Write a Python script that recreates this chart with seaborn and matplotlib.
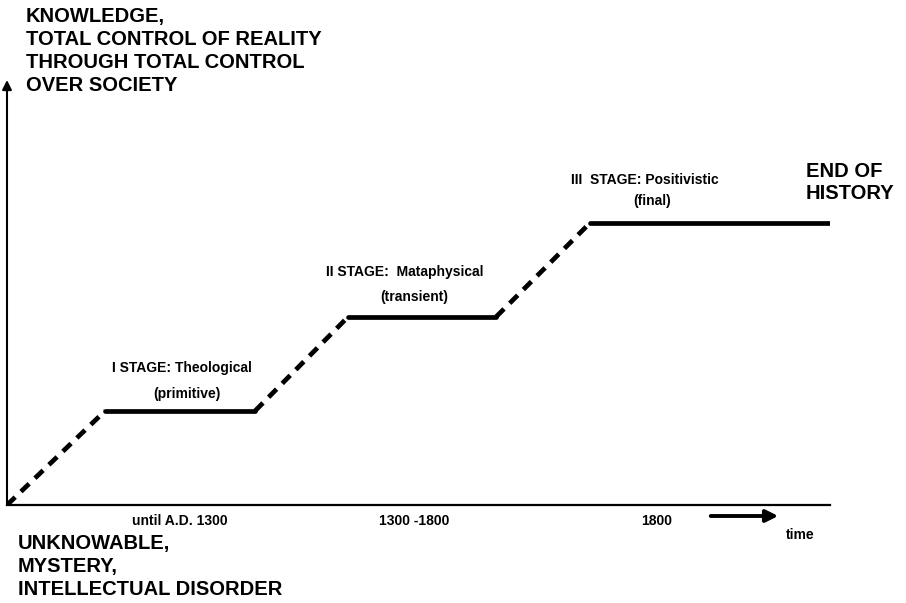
import numpy as np
import pandas as pd
import matplotlib
matplotlib.use('Agg')
import matplotlib.pyplot as plt
import seaborn as sns

# Comte's law of three stages - data
time_knots = [0, 0.98, 2.48, 3.41, 4.89, 5.83, 8.23]
levels = [0, 1, 1, 2, 2, 3, 3]
stage_names = ['I STAGE: Theological', 'II STAGE:  Mataphysical', 'III  STAGE: Positivistic']
stage_notes = ['(primitive)', '(transient)', '(final)']
period_labels = ['until A.D. 1300', '1300 -1800', '1800']

# build segments from the knots
rows = []
for i in range(len(time_knots) - 1):
    kind = 'rise' if levels[i] != levels[i + 1] else 'stage'
    for j in (i, i + 1):
        rows.append({'seg': i, 'kind': kind, 't': time_knots[j], 'level': levels[j]})
df = pd.DataFrame(rows)

sns.set_style('white')
plt.rcParams['font.family'] = ['Liberation Sans', 'DejaVu Sans']

W, H = 906, 603
fig = plt.figure(figsize=(W / 100, H / 100), dpi=100)
ax = fig.add_axes([7 / W, (H - 505) / H, 823 / W, 425 / H])

sns.lineplot(data=df, x='t', y='level', units='seg', estimator=None,
             style='kind', dashes={'rise': (2.4, 1.7), 'stage': ''},
             color='black', lw=3.4, legend=False, ax=ax)

ax.set_xlim(0, 8.23)
ax.set_ylim(0, 4.52)
ax.set_xticks([])
ax.set_yticks([])
ax.set_xlabel('')
ax.set_ylabel('')
for s in ['top', 'right', 'left']:
    ax.spines[s].set_visible(False)
ax.spines['bottom'].set_linewidth(1.6)
ax.spines['bottom'].set_color('black')

# y axis with arrow
ax.annotate('', xy=(0, 1.0), xytext=(0, 0), xycoords='axes fraction',
            arrowprops=dict(arrowstyle='-|>', color='black', lw=1.5, mutation_scale=14,
                            shrinkA=0, shrinkB=0))


def px(x, y):
    return x / W, 1 - y / H


bold = dict(weight='bold', color='black')

fig.text(*px(26, 7), 'KNOWLEDGE,\nTOTAL CONTROL OF REALITY\nTHROUGH TOTAL CONTROL\nOVER SOCIETY',
         ha='left', va='top', fontsize=14.5, linespacing=1.26, **bold)
fig.text(*px(18, 534), 'UNKNOWABLE,\nMYSTERY,\nINTELLECTUAL DISORDER',
         ha='left', va='top', fontsize=14.5, linespacing=1.26, **bold)
fig.text(*px(806, 162), 'END OF\nHISTORY', ha='left', va='top', fontsize=14.5,
         linespacing=1.2, **bold)

# stage labels
name_pos = [(182, 368), (405, 272), (645, 180)]
note_pos = [(187, 394), (414, 297), (652, 201)]
for name, note, (nx, ny), (ox, oy) in zip(stage_names, stage_notes, name_pos, note_pos):
    fig.text(*px(nx, ny), name, ha='center', va='center', fontsize=10, **bold)
    fig.text(*px(ox, oy), note, ha='center', va='center', fontsize=10, **bold)

# period labels under the time axis
period_x = [180, 414, 657]
for lab, x in zip(period_labels, period_x):
    fig.text(*px(x, 521), lab, ha='center', va='center', fontsize=10, **bold)

# time arrow
fig.patches.append(matplotlib.patches.FancyArrowPatch(
    px(708, 516), px(781, 516), transform=fig.transFigure, arrowstyle='-|>',
    mutation_scale=18, lw=2.8, color='black'))
fig.text(*px(800, 535), 'time', ha='center', va='center', fontsize=10, **bold)

fig.savefig('out.png', dpi=100, facecolor='white')
